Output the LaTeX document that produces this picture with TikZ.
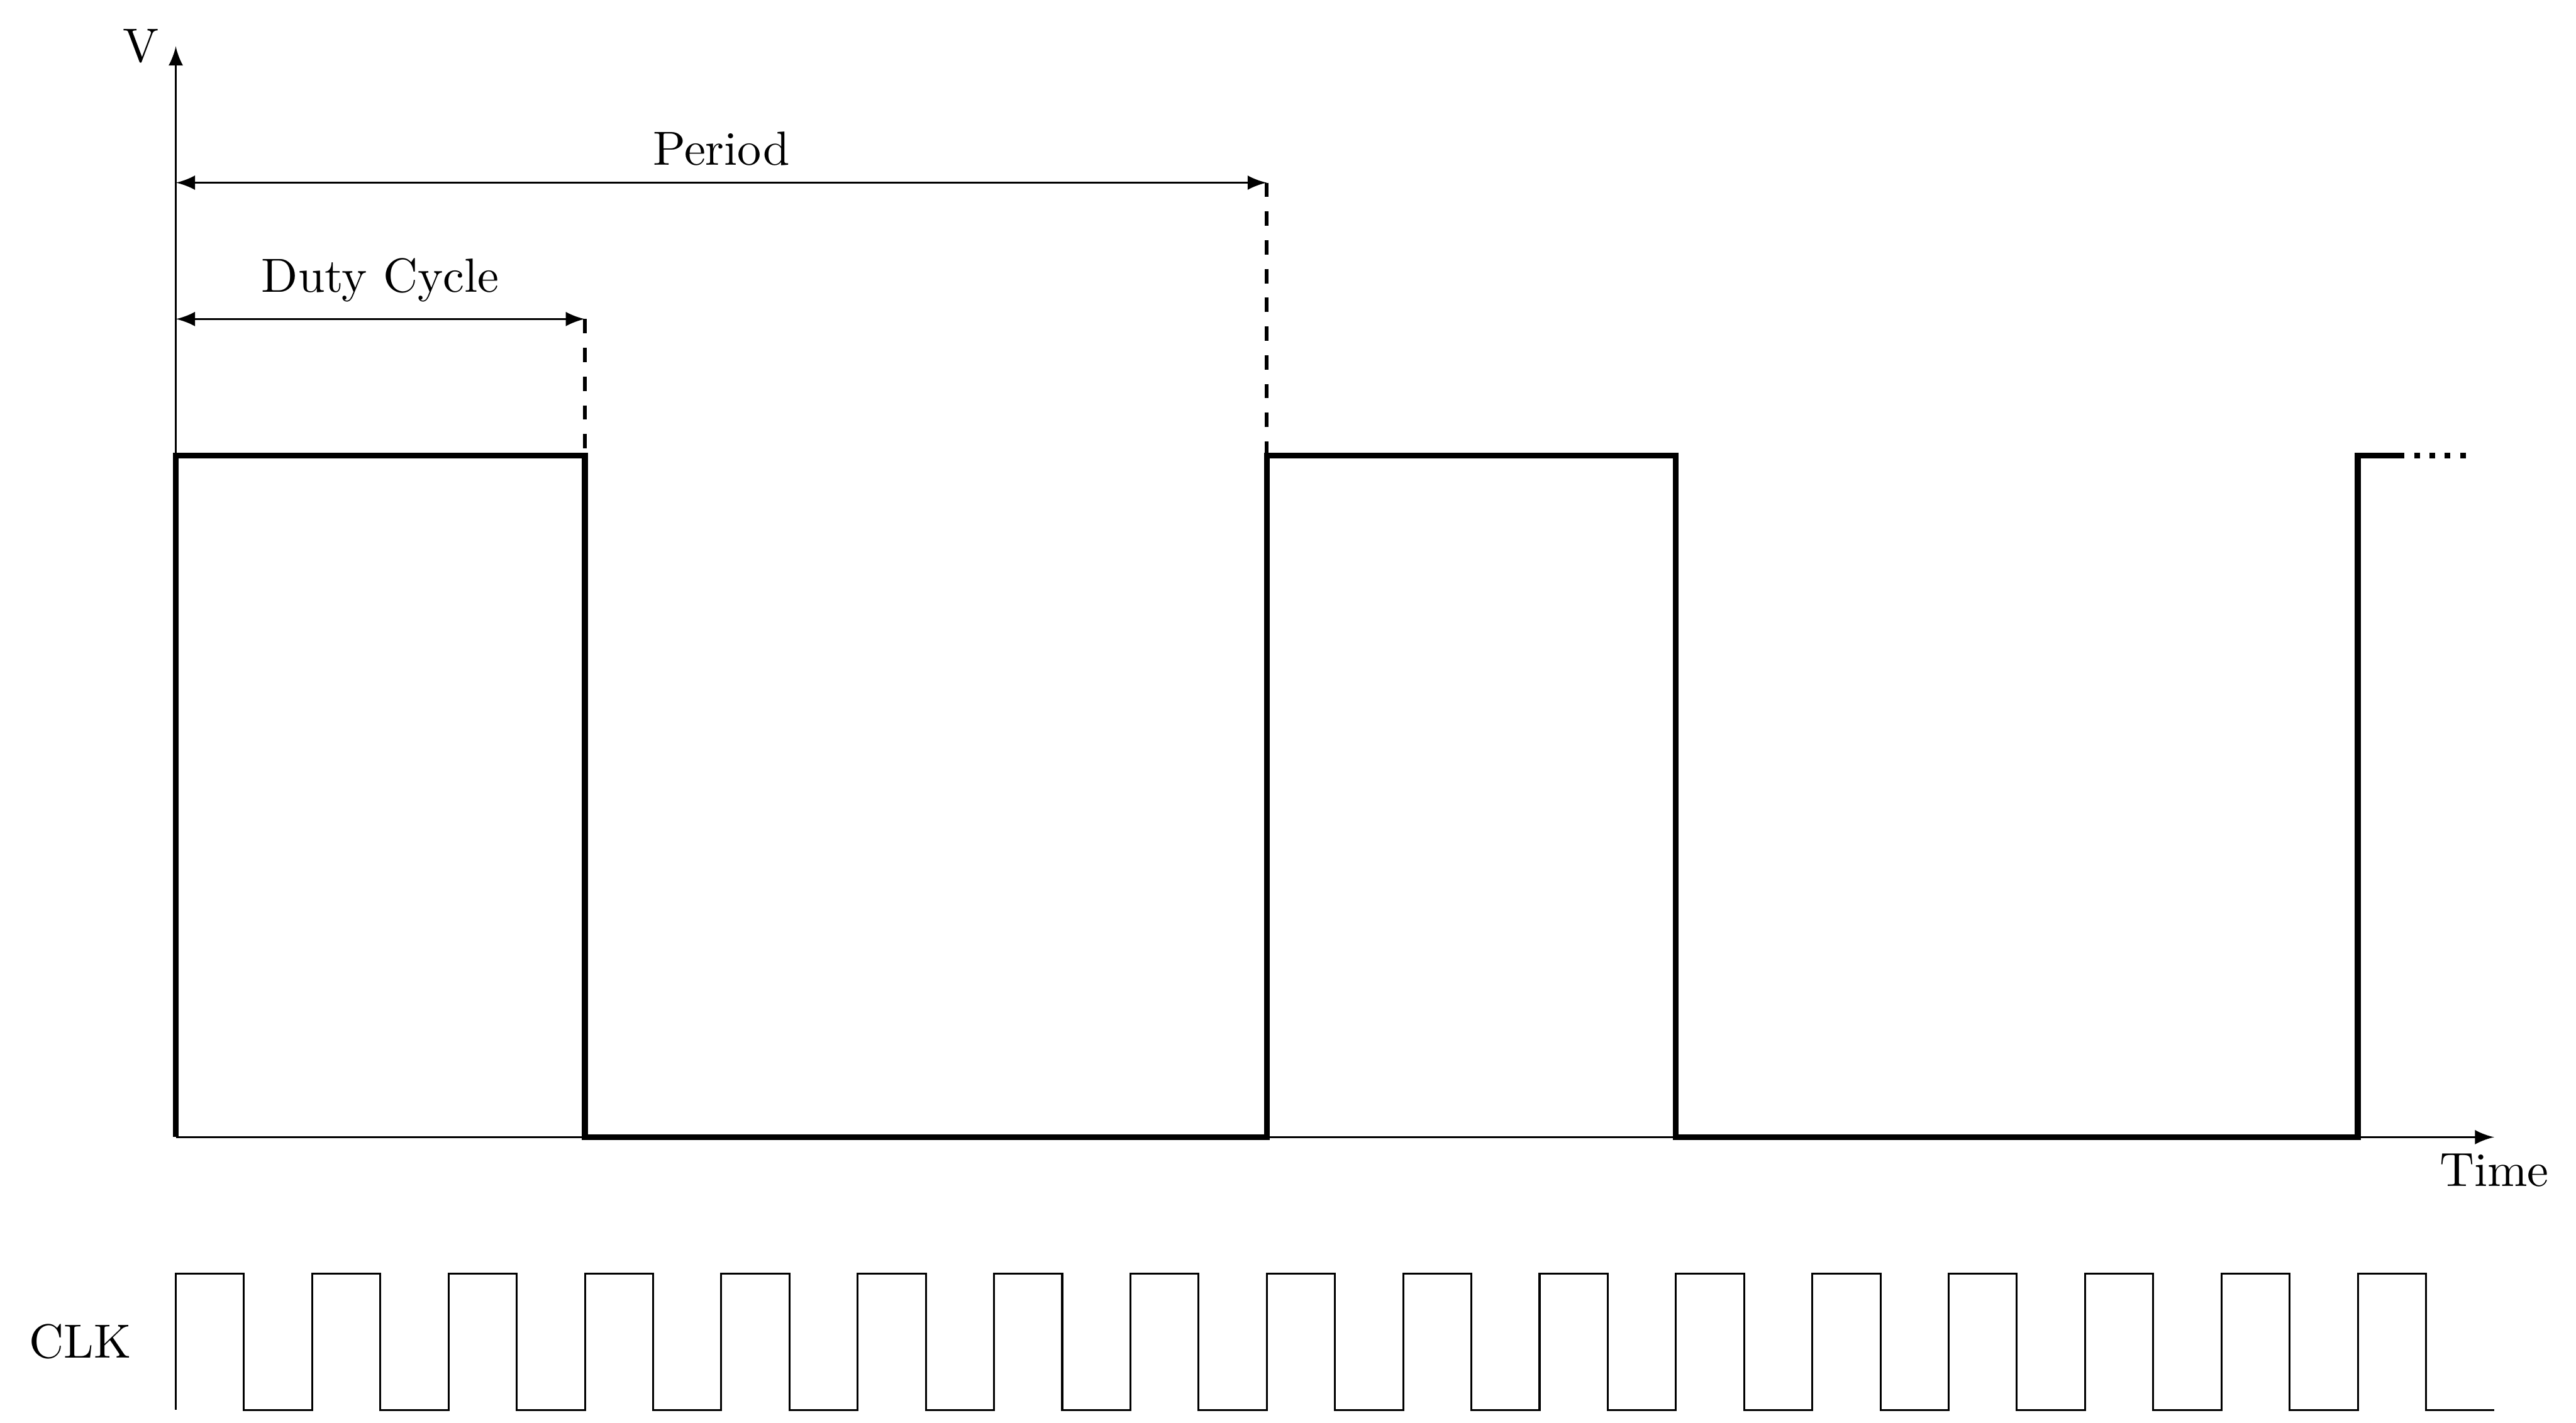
\documentclass[tikz,border=0pt]{standalone}
\usepackage{tikz}
\usetikzlibrary{arrows,positioning}

\begin{document}
\begin{tikzpicture}[x=0.5cm,y=0.5cm,>=latex,
    signal/.style={very thick},
    guide/.style={thick,dashed},
    span/.style={<->}]
  \useasboundingbox (-2.578,-4.19) rectangle (35.2,16.68);
  % axes
  \coordinate (O) at (0,0);
  \draw[->] (O) -- (0,16) node[left] (vlab) {V};
  \draw[->] (O) -- (34,0) node[below] (tlab) {Time};
  % pwm signal
  \draw[signal] (0,0) -- (0,10) -- (6,10) -- (6,0) -- (16,0) -- (16,10) -- (22,10) -- (22,0) -- (32,0) -- (32,10) -- (32.6,10);
  \draw[signal,dotted] (32.6,10) -- (33.6,10);
  % duty cycle and period
  \draw[guide] (6,12) -- (6,10);
  \draw[guide] (16,14) -- (16,10);
  \draw[span] (0,12) -- node[above] (duty) {Duty Cycle} (6,12);
  \draw[span] (0,14) -- node[above] (period) {Period} (16,14);
  % clock
  \draw (0,-4) \foreach \i in {0,2,...,32} {-- (\i,-2) -- (\i+1,-2) -- (\i+1,-4) -- (\i+2,-4)};
  \node (clk) at (-1.4,-3) {CLK};
\end{tikzpicture}
\end{document}
